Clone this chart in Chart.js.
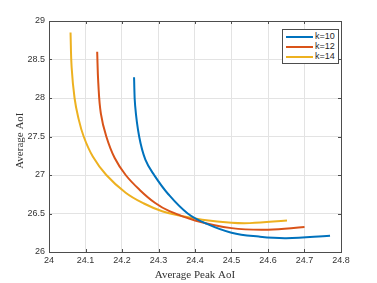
<!DOCTYPE html>
<html>
<head>
<meta charset="utf-8">
<script src="https://cdn.jsdelivr.net/npm/chart.js@4.4.1/dist/chart.umd.min.js"></script>
<style>
  body { margin: 0; background: #fff; }
  #wrap { position: relative; width: 377px; height: 283px; }
  #legend {
    position: absolute; left: 282px; top: 29px; width: 55px; height: 33px;
    border: 1px solid #4d4d4d; background: #fff;
    font: 9px "Liberation Sans", Arial, sans-serif; color: #262626;
  }
  #legend .row { position: absolute; left: 3px; height: 10px; line-height: 10px; white-space: nowrap; }
  #legend .sw { display: inline-block; width: 27px; height: 2px; vertical-align: middle; margin-right: 2px; }
</style>
</head>
<body>
<div id="wrap">
  <canvas id="aoiChart" width="377" height="283"></canvas>
  <div id="legend"></div>
</div>
<script>
// k=10
const k10X = [24.233, 24.236, 24.247, 24.264, 24.288, 24.327, 24.380, 24.430, 24.500, 24.575, 24.650, 24.770];
const k10Y = [28.27, 27.90, 27.50, 27.20, 27.00, 26.75, 26.50, 26.37, 26.25, 26.20, 26.18, 26.21];
// k=12
const k12X = [24.132, 24.135, 24.142, 24.157, 24.180, 24.210, 24.250, 24.290, 24.330, 24.400, 24.500, 24.600, 24.700];
const k12Y = [28.60, 28.20, 27.80, 27.50, 27.22, 27.00, 26.80, 26.64, 26.53, 26.41, 26.31, 26.29, 26.325];
// k=14
const k14X = [24.059, 24.062, 24.070, 24.080, 24.095, 24.120, 24.157, 24.210, 24.260, 24.310, 24.360, 24.420, 24.500, 24.550, 24.652];
const k14Y = [28.85, 28.40, 28.00, 27.75, 27.50, 27.24, 27.00, 26.77, 26.63, 26.53, 26.47, 26.42, 26.38, 26.375, 26.41];

const seriesNames = ['k=10', 'k=12', 'k=14'];
const seriesColors = ['#0072BD', '#D95319', '#EDB120'];
const xTicks = [24, 24.1, 24.2, 24.3, 24.4, 24.5, 24.6, 24.7, 24.8];
const yTicks = [26, 26.5, 27, 27.5, 28, 28.5, 29];

const toPoints = (xs, ys) => xs.map((x, i) => ({ x: x, y: ys[i] }));
const seriesData = [toPoints(k10X, k10Y), toPoints(k12X, k12Y), toPoints(k14X, k14Y)];

// matlab style box + inward ticks
const boxPlugin = {
    id: 'box',
    afterDraw(chart) {
        const { ctx, chartArea: a, scales } = chart;
        ctx.save();
        ctx.strokeStyle = '#4d4d4d';
        ctx.lineWidth = 1;
        ctx.beginPath();
        xTicks.forEach(v => {
            const px = Math.round(scales.x.getPixelForValue(v)) + 0.5;
            ctx.moveTo(px, a.bottom); ctx.lineTo(px, a.bottom - 3);
            ctx.moveTo(px, a.top); ctx.lineTo(px, a.top + 3);
        });
        yTicks.forEach(v => {
            const py = Math.round(scales.y.getPixelForValue(v)) + 0.5;
            ctx.moveTo(a.left, py); ctx.lineTo(a.left + 3, py);
            ctx.moveTo(a.right, py); ctx.lineTo(a.right - 3, py);
        });
        ctx.stroke();
        ctx.strokeRect(Math.round(a.left) + 0.5, Math.round(a.top) + 0.5,
            Math.round(a.right - a.left), Math.round(a.bottom - a.top));
        ctx.restore();
    }
};

const tickFont = { family: '"Liberation Sans", Arial, sans-serif', size: 9 };
const titleFont = { family: '"Liberation Serif", "Times New Roman", serif', size: 11 };

new Chart(document.getElementById('aoiChart').getContext('2d'), {
    type: 'scatter',
    data: {
        datasets: seriesData.map((d, i) => ({
            label: seriesNames[i],
            data: d,
            showLine: true,
            borderColor: seriesColors[i],
            backgroundColor: seriesColors[i],
            borderWidth: 2,
            pointRadius: 0,
            tension: 0.4
        }))
    },
    options: {
        responsive: false,
        animation: false,
        layout: { padding: { top: 21, right: 36, left: 0, bottom: 0 } },
        plugins: { legend: { display: false }, tooltip: { enabled: false } },
        scales: {
            x: {
                type: 'linear', min: 24, max: 24.8,
                afterBuildTicks: s => { s.ticks = xTicks.map(v => ({ value: v })); },
                afterFit: s => { s.height = 31; },
                ticks: { font: tickFont, color: '#333', padding: 3, maxRotation: 0, callback: v => String(v) },
                grid: { color: '#e3e3e3', drawTicks: false },
                border: { display: false },
                title: { display: true, text: 'Average Peak AoI', font: titleFont, color: '#333', padding: { top: 0, bottom: 1 } }
            },
            y: {
                type: 'linear', min: 26, max: 29,
                afterBuildTicks: s => { s.ticks = yTicks.map(v => ({ value: v })); },
                afterFit: s => { s.width = 49; },
                ticks: { font: tickFont, color: '#333', padding: 4, callback: v => String(v) },
                grid: { color: '#e3e3e3', drawTicks: false },
                border: { display: false },
                title: { display: true, text: 'Average AoI   ', font: titleFont, color: '#333', padding: { top: 14, bottom: 0 } }
            }
        }
    },
    plugins: [boxPlugin]
});

const legendEl = document.getElementById('legend');
seriesNames.forEach((name, i) => {
    const row = document.createElement('div');
    row.className = 'row';
    row.style.top = (1 + i * 10) + 'px';
    row.innerHTML = '<span class="sw" style="background:' + seriesColors[i] + '"></span>' + name;
    legendEl.appendChild(row);
});
</script>
</body>
</html>
